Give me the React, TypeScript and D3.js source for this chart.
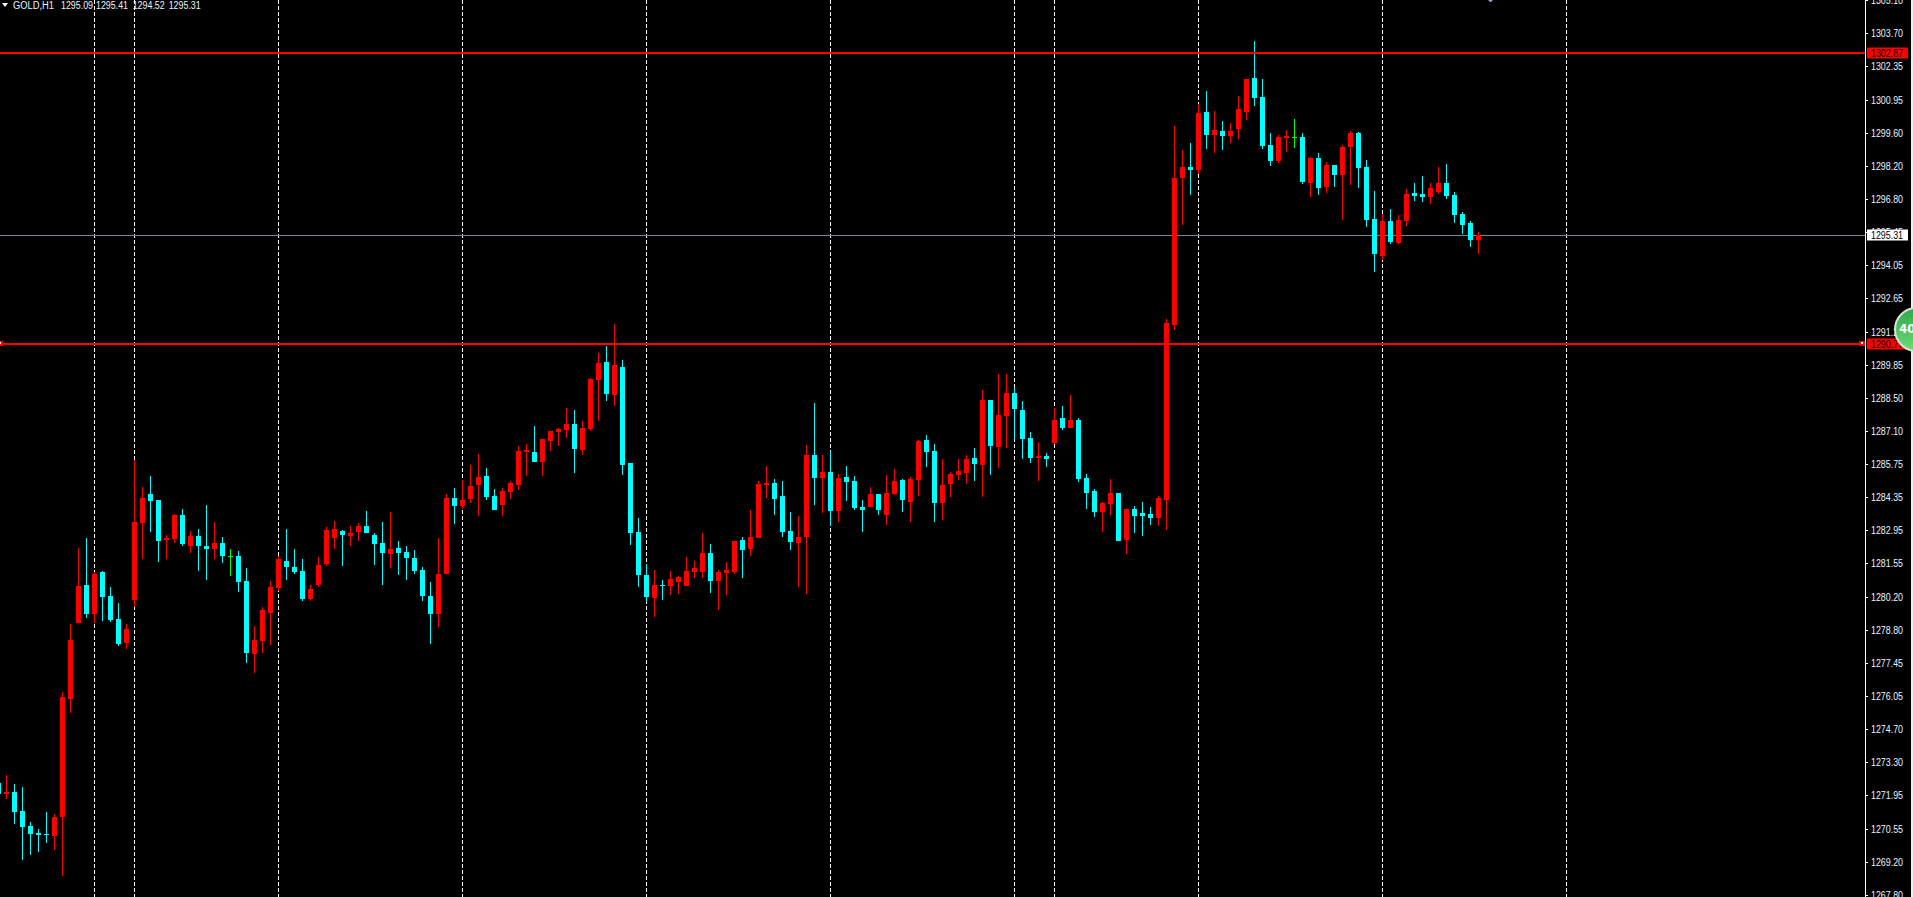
import { useEffect, useRef } from "react";
import * as d3 from "d3";

const W = 1913;
const H = 897;
const AXIS_X = 1865;

const headerLabels = ["GOLD,H1", "1295.09", "1295.41", "1294.52", "1295.31"];
const headerX = [13, 61, 96, 132.7, 168.7];
const headerW = [41, 32, 32, 32, 32];

const tickLabels = [
  "1305.10", "1303.70", "1302.35", "1300.95", "1299.60", "1298.20", "1296.80",
  "1295.45", "1294.05", "1292.65", "1291.25", "1289.85", "1288.50", "1287.10",
  "1285.75", "1284.35", "1282.95", "1281.55", "1280.20", "1278.80", "1277.45",
  "1276.05", "1274.70", "1273.30", "1271.95", "1270.55", "1269.20", "1267.80",
];

// bar numbers of the period separators
const separators = [12, 17, 35, 58, 81, 104, 127, 132, 150, 173, 196];

const levels = [1302.87, 1290.77];

const opens = [
  1272.45, 1272.00, 1272.09, 1271.30, 1270.67, 1270.38, 1270.34, 1270.25, 1271.04, 1275.96,
  1279.13, 1280.71, 1279.50, 1281.25, 1280.25, 1279.29, 1278.29, 1280.09, 1283.29, 1284.50,
  1284.25, 1282.59, 1282.63, 1283.63, 1282.34, 1282.75, 1282.34, 1282.21, 1282.46, 1281.90,
  1281.92, 1280.88, 1277.84, 1278.38, 1279.54, 1280.59, 1281.71, 1281.46, 1281.29, 1280.13,
  1280.71, 1281.58, 1282.67, 1282.96, 1282.75, 1282.92, 1283.17, 1282.79, 1282.46, 1282.00,
  1282.25, 1282.09, 1281.84, 1281.34, 1280.25, 1279.50, 1281.17, 1284.34, 1284.00, 1284.29,
  1284.88, 1285.25, 1284.42, 1284.04, 1284.59, 1284.88, 1286.25, 1286.25, 1285.84, 1286.71,
  1287.09, 1287.17, 1287.42, 1286.34, 1287.21, 1289.25, 1290.00, 1288.63, 1289.80, 1285.80,
  1282.92, 1281.13, 1280.17, 1280.71, 1280.67, 1280.84, 1280.67, 1281.25, 1281.25, 1282.05,
  1280.88, 1281.21, 1281.25, 1282.59, 1282.21, 1282.67, 1284.88, 1284.96, 1284.42, 1282.96,
  1282.46, 1282.71, 1286.13, 1285.17, 1285.42, 1283.80, 1285.21, 1285.05, 1283.96, 1283.96,
  1284.51, 1283.63, 1284.51, 1285.09, 1284.17, 1285.09, 1286.76, 1286.30, 1284.13, 1284.92,
  1285.30, 1285.38, 1286.01, 1285.71, 1288.42, 1286.46, 1287.76, 1288.71, 1288.01, 1286.84,
  1286.01, 1286.09, 1286.63, 1287.67, 1287.26, 1287.59, 1285.17, 1284.63, 1283.76, 1284.09,
  1284.55, 1282.59, 1283.88, 1283.71, 1283.67, 1283.51, 1284.25, 1291.55, 1297.67, 1298.13,
  1298.01, 1300.42, 1299.46, 1299.63, 1299.42, 1299.71, 1300.42, 1301.84, 1301.05, 1299.05,
  1298.38, 1299.34, 1299.40, 1299.38, 1297.46, 1298.51, 1297.30, 1298.21, 1297.80, 1298.96,
  1299.55, 1298.13, 1295.96, 1294.42, 1295.88, 1294.96, 1295.88, 1297.05, 1297.01, 1296.88,
  1297.09, 1297.46, 1296.96, 1296.17, 1295.80, 1295.09,
];

const closes = [
  1272.00, 1272.09, 1271.25, 1270.63, 1270.34, 1270.29, 1270.29, 1271.04, 1276.04, 1278.42,
  1280.67, 1279.50, 1281.17, 1280.21, 1279.25, 1278.25, 1278.88, 1283.34, 1284.34, 1284.21,
  1282.54, 1282.67, 1283.63, 1282.42, 1282.75, 1282.34, 1282.21, 1282.46, 1281.92, 1281.90,
  1280.84, 1277.88, 1278.42, 1279.67, 1280.63, 1281.79, 1281.46, 1281.25, 1280.13, 1280.54,
  1281.54, 1283.00, 1283.04, 1282.79, 1282.88, 1283.17, 1282.88, 1282.42, 1282.04, 1282.21,
  1282.04, 1281.84, 1281.29, 1280.25, 1279.50, 1281.17, 1284.34, 1284.00, 1284.25, 1284.84,
  1285.21, 1284.38, 1283.84, 1284.63, 1284.96, 1286.29, 1286.34, 1285.84, 1286.79, 1287.13,
  1287.21, 1287.42, 1286.38, 1287.25, 1289.30, 1289.96, 1288.67, 1289.88, 1285.71, 1282.88,
  1281.13, 1280.21, 1280.71, 1280.67, 1280.96, 1281.05, 1281.30, 1281.42, 1282.05, 1280.88,
  1281.25, 1281.34, 1282.55, 1282.17, 1282.71, 1284.92, 1284.96, 1284.30, 1282.92, 1282.51,
  1282.71, 1286.13, 1285.17, 1285.42, 1283.80, 1285.17, 1285.01, 1283.92, 1283.84, 1284.51,
  1283.84, 1284.55, 1285.05, 1284.25, 1285.13, 1286.71, 1286.25, 1284.13, 1284.88, 1285.34,
  1285.46, 1285.96, 1285.76, 1288.42, 1286.51, 1287.80, 1288.71, 1288.05, 1286.80, 1286.01,
  1286.09, 1285.96, 1287.59, 1287.26, 1287.59, 1285.13, 1284.55, 1283.76, 1284.13, 1284.55,
  1282.55, 1283.88, 1283.59, 1283.59, 1283.51, 1284.34, 1291.63, 1297.67, 1298.13, 1298.01,
  1300.38, 1299.46, 1299.67, 1299.42, 1299.63, 1300.55, 1301.80, 1301.01, 1299.00, 1298.38,
  1299.38, 1299.42, 1299.40, 1297.51, 1298.51, 1297.26, 1298.21, 1297.80, 1298.96, 1299.55,
  1298.09, 1295.92, 1294.51, 1295.88, 1295.01, 1295.92, 1297.01, 1296.92, 1296.88, 1297.26,
  1297.46, 1296.92, 1296.13, 1295.71, 1295.09, 1295.31,
];

const highs = [
  1272.90, 1272.80, 1272.42, 1272.29, 1270.84, 1270.54, 1271.25, 1271.17, 1276.25, 1279.09,
  1282.25, 1282.67, 1281.25, 1281.29, 1280.63, 1279.96, 1279.09, 1285.92, 1284.79, 1285.25,
  1284.25, 1282.79, 1283.67, 1283.88, 1282.96, 1283.04, 1284.04, 1283.34, 1282.71, 1282.21,
  1282.13, 1281.42, 1279.00, 1279.79, 1280.88, 1281.92, 1283.04, 1282.21, 1281.79, 1280.71,
  1281.88, 1283.13, 1283.38, 1283.00, 1283.17, 1283.29, 1283.79, 1282.88, 1283.34, 1283.75,
  1282.54, 1282.34, 1282.17, 1281.46, 1280.84, 1282.67, 1284.50, 1284.75, 1285.09, 1285.71,
  1286.17, 1285.59, 1284.71, 1284.75, 1285.04, 1286.50, 1286.58, 1287.34, 1286.79, 1287.13,
  1287.25, 1288.09, 1288.00, 1287.55, 1289.34, 1290.38, 1290.67, 1291.59, 1290.09, 1285.80,
  1283.51, 1281.59, 1281.34, 1280.92, 1281.30, 1281.09, 1281.88, 1281.71, 1282.88, 1282.42,
  1281.34, 1281.67, 1282.55, 1282.71, 1283.84, 1285.05, 1285.67, 1285.13, 1285.05, 1283.76,
  1283.59, 1286.55, 1288.30, 1286.13, 1286.30, 1285.34, 1285.67, 1285.25, 1284.25, 1284.80,
  1284.51, 1285.30, 1285.55, 1285.13, 1285.21, 1286.76, 1286.96, 1286.59, 1285.96, 1285.42,
  1285.96, 1286.13, 1286.42, 1288.84, 1288.42, 1289.51, 1289.51, 1288.96, 1288.38, 1287.09,
  1286.67, 1286.21, 1288.09, 1288.17, 1288.63, 1287.67, 1285.34, 1284.71, 1284.17, 1285.13,
  1284.55, 1283.88, 1284.01, 1284.17, 1283.96, 1284.42, 1291.80, 1299.84, 1298.84, 1299.13,
  1300.76, 1301.30, 1300.46, 1300.05, 1299.96, 1301.09, 1301.80, 1303.38, 1301.80, 1299.55,
  1299.46, 1299.67, 1300.13, 1299.55, 1298.55, 1298.71, 1298.34, 1298.21, 1299.05, 1299.63,
  1299.59, 1298.42, 1297.13, 1296.17, 1296.38, 1296.13, 1297.21, 1297.46, 1297.76, 1297.46,
  1298.13, 1298.26, 1297.09, 1296.26, 1295.88, 1295.41,
];

const lows = [
  1271.80, 1271.80, 1270.75, 1269.25, 1269.46, 1269.59, 1269.96, 1269.67, 1268.59, 1275.38,
  1279.13, 1279.34, 1279.13, 1279.21, 1279.17, 1278.17, 1278.04, 1279.80, 1281.79, 1282.92,
  1281.67, 1281.79, 1282.46, 1282.34, 1282.04, 1281.29, 1280.92, 1281.79, 1281.63, 1281.09,
  1280.42, 1277.46, 1277.04, 1277.88, 1278.21, 1280.46, 1280.92, 1281.17, 1280.04, 1280.04,
  1280.63, 1281.50, 1282.21, 1281.50, 1282.34, 1282.54, 1282.88, 1281.54, 1280.71, 1281.42,
  1281.13, 1280.92, 1281.17, 1280.04, 1278.25, 1278.96, 1281.17, 1283.25, 1283.88, 1284.13,
  1283.59, 1284.25, 1283.84, 1283.59, 1284.29, 1284.67, 1285.25, 1285.84, 1285.25, 1286.29,
  1286.50, 1286.84, 1285.38, 1286.13, 1287.13, 1287.55, 1288.38, 1288.17, 1285.30, 1282.38,
  1280.63, 1280.01, 1279.38, 1280.09, 1280.30, 1280.34, 1280.67, 1281.01, 1281.01, 1280.38,
  1279.67, 1280.30, 1281.17, 1281.01, 1281.92, 1282.67, 1284.34, 1283.63, 1282.71, 1282.17,
  1280.63, 1280.34, 1284.05, 1283.71, 1283.17, 1283.34, 1284.21, 1283.84, 1282.92, 1283.96,
  1283.63, 1283.21, 1284.46, 1283.76, 1283.34, 1284.42, 1285.63, 1283.34, 1283.42, 1284.38,
  1285.09, 1284.92, 1285.05, 1284.38, 1285.30, 1285.59, 1286.42, 1286.80, 1285.96, 1285.80,
  1285.05, 1285.63, 1286.59, 1287.17, 1287.26, 1285.01, 1283.88, 1283.55, 1282.92, 1283.63,
  1282.55, 1282.01, 1282.88, 1282.76, 1283.21, 1283.17, 1283.00, 1291.34, 1295.71, 1296.96,
  1297.84, 1298.88, 1298.71, 1298.84, 1299.13, 1299.30, 1300.09, 1300.67, 1298.88, 1298.17,
  1298.30, 1298.76, 1298.92, 1297.42, 1296.88, 1296.96, 1297.05, 1297.30, 1295.92, 1297.38,
  1297.26, 1295.63, 1293.76, 1294.26, 1294.92, 1294.92, 1295.67, 1296.71, 1296.67, 1296.59,
  1297.01, 1296.80, 1295.80, 1295.34, 1294.80, 1294.52,
];

const UP = "#ff0000";
const DOWN = "#00ffff";
const DOJI = "#00ff00";
const FONT = "'Liberation Sans', Arial, sans-serif";
const LABEL = "#eaf3ff";

export default function App() {
  const svgRef = useRef<SVGSVGElement | null>(null);

  useEffect(() => {
    const svg = d3.select(svgRef.current);
    svg.selectAll("*").remove();

    const x = d3.scaleLinear().domain([0, 196]).range([-1.5, 1566.5]);
    const y = d3.scaleLinear().domain([1305.0875, 1267.7125]).range([0, H]);
    const yTick = d3.scalePoint<string>().domain(tickLabels).range([0.2, 894.8]);
    const px = (p: number) => Math.round(y(p));

    svg.append("rect").attr("width", W).attr("height", H).attr("fill", "#000");

    // Period separators.
    svg
      .append("g")
      .selectAll("line")
      .data(separators)
      .join("line")
      .attr("x1", (d) => x(d))
      .attr("x2", (d) => x(d))
      .attr("y1", 0)
      .attr("y2", H)
      .attr("stroke", "#fff")
      .attr("stroke-dasharray", "4 2");

    // Bid line, under the candles.
    const last = closes[closes.length - 1];
    svg
      .append("rect")
      .attr("x", 0)
      .attr("y", px(last))
      .attr("width", AXIS_X)
      .attr("height", 1)
      .attr("fill", "#778899");

    const color = (i: number) =>
      closes[i] > opens[i] ? UP : closes[i] < opens[i] ? DOWN : DOJI;
    const bars = svg.append("g").attr("shape-rendering", "crispEdges");
    const idx = d3.range(opens.length);

    bars
      .selectAll("rect.wick")
      .data(idx)
      .join("rect")
      .attr("class", "wick")
      .attr("x", (i) => x(i) - 0.5)
      .attr("y", (i) => px(highs[i]))
      .attr("width", 1)
      .attr("height", (i) => Math.max(1, px(lows[i]) - px(highs[i])))
      .attr("fill", color);

    bars
      .selectAll("rect.body")
      .data(idx)
      .join("rect")
      .attr("class", "body")
      .attr("x", (i) => x(i) - 2.5)
      .attr("y", (i) => px(Math.max(opens[i], closes[i])))
      .attr("width", 5)
      .attr("height", (i) => Math.max(1, px(Math.min(opens[i], closes[i])) - px(Math.max(opens[i], closes[i]))))
      .attr("fill", color);

    // Horizontal levels, drawn over the candles.
    const lv = svg.append("g");
    lv.selectAll("rect")
      .data(levels)
      .join("rect")
      .attr("x", 0)
      .attr("y", (d) => px(d) - 1)
      .attr("width", AXIS_X)
      .attr("height", 2)
      .attr("fill", "#ff0000");

    // Selection handles on the lower level.
    [0, AXIS_X - 3].forEach((hx) => {
      svg.append("rect").attr("x", hx - 3).attr("y", px(levels[1]) - 3).attr("width", 6).attr("height", 5).attr("fill", "#ff0000");
      svg.append("rect").attr("x", hx - 1).attr("y", px(levels[1]) - 2).attr("width", 2).attr("height", 2).attr("fill", "#fff");
    });

    // Price axis.
    svg.append("rect").attr("x", AXIS_X).attr("y", 0).attr("width", 1).attr("height", H).attr("fill", "#fff");
    svg.append("rect").attr("x", W - 2).attr("y", 0).attr("width", 2).attr("height", H).attr("fill", "#f0f0f0");

    const ticks = svg.append("g");
    ticks
      .selectAll("rect")
      .data(tickLabels)
      .join("rect")
      .attr("x", AXIS_X + 1)
      .attr("y", (d) => Math.round(yTick(d) ?? 0))
      .attr("width", 2)
      .attr("height", 1)
      .attr("fill", "#fff");
    ticks
      .selectAll("text")
      .data(tickLabels)
      .join("text")
      .attr("x", AXIS_X + 6)
      .attr("y", (d) => (yTick(d) ?? 0) + 4)
      .attr("font-family", FONT)
      .attr("font-size", 10)
      .attr("textLength", 32)
      .attr("lengthAdjust", "spacingAndGlyphs")
      .attr("fill", LABEL)
      .text((d) => d);

    const flag = (p: number, fill: string) => {
      const cy = px(p);
      svg.append("rect").attr("x", AXIS_X + 2).attr("y", cy - 5.5).attr("width", 41).attr("height", 11).attr("fill", fill);
      svg
        .append("text")
        .attr("x", AXIS_X + 6)
        .attr("y", cy + 3.5)
        .attr("font-family", FONT)
        .attr("font-size", 10)
        .attr("textLength", 32)
        .attr("lengthAdjust", "spacingAndGlyphs")
        .attr("fill", "#000")
        .text(p.toFixed(2));
    };
    flag(levels[0], "#ff0000");
    flag(levels[1], "#ff0000");
    flag(last, "#ffffff");

    // Green badge at the right edge.
    const defs = svg.append("defs");
    const grad = defs
      .append("linearGradient")
      .attr("id", "badge")
      .attr("x1", 0)
      .attr("y1", 0)
      .attr("x2", 0)
      .attr("y2", 1);
    grad.append("stop").attr("offset", 0).attr("stop-color", "#2fa84a");
    grad.append("stop").attr("offset", 1).attr("stop-color", "#6fdc74");
    svg
      .append("circle")
      .attr("cx", 1916.5)
      .attr("cy", 329.5)
      .attr("r", 21.5)
      .attr("fill", "url(#badge)")
      .attr("stroke", "#d8e2da")
      .attr("stroke-width", 2);
    svg
      .append("text")
      .attr("x", 1899.3)
      .attr("y", 333)
      .attr("font-family", "'DejaVu Sans', sans-serif")
      .attr("font-weight", "bold")
      .attr("font-size", 11.5)
      .attr("fill", "#fff")
      .text("40");

    // Chart header.
    svg.append("path").attr("d", "M2 3 L8 3 L5 7 Z").attr("fill", "#fff");
    svg
      .append("g")
      .selectAll("text")
      .data(headerLabels)
      .join("text")
      .attr("x", (_, i) => headerX[i])
      .attr("y", 8.5)
      .attr("font-family", FONT)
      .attr("font-size", 10)
      .attr("textLength", (_, i) => headerW[i])
      .attr("lengthAdjust", "spacingAndGlyphs")
      .attr("fill", LABEL)
      .text((d) => d);

    // Small marker cut off by the top edge.
    svg.append("path").attr("d", "M1488 0 L1493 0 L1491 2 L1490 2 Z").attr("fill", "#8fa6bd");
  }, []);

  return (
    <svg
      ref={svgRef}
      width={W}
      height={H}
      viewBox={`0 0 ${W} ${H}`}
      style={{ position: "fixed", left: 0, top: 0, display: "block" }}
    />
  );
}
